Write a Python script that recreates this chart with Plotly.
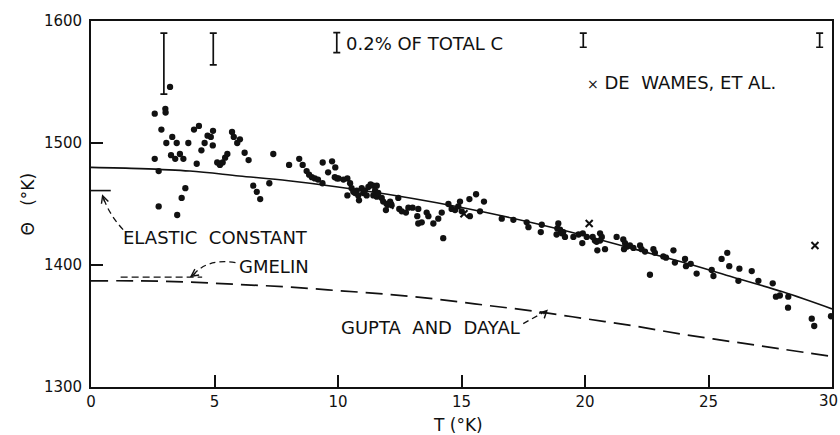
import plotly.graph_objects as go

# ---------------- data ----------------
T_obs = [3.20, 2.58, 3.01, 3.02, 2.85, 3.05, 3.29, 3.47, 2.58, 2.74, 3.24, 3.41, 3.60, 3.74, 3.94,
         4.17, 4.37, 4.28, 4.47, 4.60, 4.72, 4.85, 4.94, 4.93, 5.11, 5.22, 5.33, 5.43, 5.52, 5.71,
         5.78, 6.03, 5.92, 6.22, 6.38, 7.38, 6.57, 6.71, 6.85, 7.22, 3.82, 3.67, 2.74, 3.49, 8.02,
         8.43, 8.57, 8.73, 8.83, 8.94, 9.06, 9.19, 9.37, 9.38, 9.60, 9.76, 9.89, 9.96,
         9.87, 10.02, 10.22, 10.38, 10.49, 10.38, 10.55, 10.62, 10.76, 10.69, 10.82, 10.85, 10.96,
         11.02, 11.09, 11.16, 11.23, 11.32, 11.43, 11.57, 11.50, 11.43, 11.57, 11.63, 11.77, 11.83,
         11.97, 12.11, 12.17, 11.94, 12.44, 12.48, 12.58, 12.75, 12.85, 13.02, 13.25, 13.21, 13.39,
         13.25, 13.59, 13.66, 13.86, 14.06, 14.20, 14.26, 14.47, 14.60, 14.74, 14.87, 14.94, 15.01,
         15.32, 15.59, 15.91, 15.34, 15.75, 16.63, 17.10, 17.64, 17.71,
         18.25, 18.21, 18.92, 18.88, 18.99, 18.85, 19.06, 19.19, 19.12, 19.53, 19.74, 19.91, 19.89,
         20.07, 20.31, 20.40, 20.61, 20.68, 20.47, 20.50, 20.81, 20.61, 21.28, 21.55, 21.62, 21.69,
         21.58, 21.82, 21.96, 22.23, 22.29, 22.43, 22.77, 22.83, 23.17, 23.28, 23.58, 23.64, 22.63,
         24.05, 24.09, 24.28, 24.52, 25.13, 25.20, 25.53, 25.76, 25.84, 26.25, 26.21, 26.75, 27.02,
         27.60, 27.73, 27.89, 28.23, 28.22, 29.18, 29.28, 29.96]
theta_obs = [1546, 1524, 1528, 1525, 1511, 1500, 1505, 1500, 1487, 1477, 1490, 1487, 1491, 1487, 1500,
             1511, 1514, 1483, 1494, 1500, 1506, 1505, 1510, 1498, 1484, 1482, 1484, 1488, 1491, 1509,
             1505, 1503, 1500, 1492, 1486, 1491, 1465, 1460, 1454, 1467, 1463, 1455, 1448, 1441, 1482,
             1487, 1482, 1477, 1474, 1472, 1471, 1470, 1467, 1484, 1476, 1485, 1480, 1471,
             1472, 1471, 1470, 1471, 1467, 1457, 1463, 1460, 1461, 1459, 1457, 1453, 1463,
             1459, 1461, 1457, 1464, 1466, 1465, 1465, 1461, 1457, 1456, 1459, 1455, 1452,
             1450, 1452, 1449, 1445, 1455, 1446, 1444, 1443, 1447, 1447, 1446, 1440, 1435,
             1434, 1443, 1440, 1434, 1438, 1443, 1422, 1450, 1446, 1445, 1448, 1452, 1444,
             1454, 1458, 1452, 1440, 1444, 1438, 1437, 1435, 1431,
             1433, 1427, 1434, 1430, 1429, 1425, 1426, 1423, 1427, 1423, 1425, 1426, 1418,
             1423, 1423, 1420, 1426, 1423, 1419, 1412, 1413, 1420, 1423, 1421, 1418, 1415,
             1413, 1416, 1414, 1416, 1413, 1411, 1413, 1410, 1407, 1406, 1412, 1402, 1392,
             1405, 1399, 1401, 1393, 1396, 1391, 1405, 1410, 1399, 1397, 1387, 1395, 1387,
             1385, 1374, 1375, 1374, 1365, 1356, 1350, 1358]

T_dewames = [12.1, 15.1, 20.17, 29.31]
theta_dewames = [1449, 1442, 1434, 1416]

T_curve = [0, 2, 4, 6, 8, 10, 12, 14, 16, 18, 20, 22, 24, 26, 28, 30]
theta_fit = [1480, 1479, 1477, 1473, 1469, 1464, 1458, 1451, 1443, 1434, 1424, 1413, 1402, 1390, 1378, 1364]
theta_gupta = [1387, 1387, 1386, 1384, 1382, 1379, 1376, 1372, 1367, 1362, 1356, 1350, 1343, 1337, 1331, 1325]

T_gmelin = [1.2, 4.5]
theta_gmelin = [1390, 1390]

T_elastic = [0, 0.8]
theta_elastic = [1461, 1461]

err_T = [2.95, 4.95, 9.95, 19.93, 29.5]
err_lo = [1540, 1564, 1574, 1578.5, 1578.5]
err_hi = [1590, 1590, 1590.5, 1590, 1590]

x_ticks = [0, 5, 10, 15, 20, 25, 30]
x_tick_labels = ["0", "5", "10", "15", "20", "25", ""]
x_last_label = "30"
y_ticks = [1300, 1400, 1500, 1600]

FONT = "DejaVu Sans"
BLACK = "#111111"

fig = go.Figure()

fig.add_trace(go.Scatter(x=T_curve, y=theta_fit, mode="lines",
                         line=dict(color=BLACK, width=1.6), line_shape="spline", hoverinfo="skip"))
fig.add_trace(go.Scatter(x=T_curve, y=theta_gupta, mode="lines",
                         line=dict(color=BLACK, width=1.7, dash="17px,8px"), line_shape="spline",
                         hoverinfo="skip"))
fig.add_trace(go.Scatter(x=T_gmelin, y=theta_gmelin, mode="lines",
                         line=dict(color=BLACK, width=1.3, dash="7px,4px")))
fig.add_trace(go.Scatter(x=T_elastic, y=theta_elastic, mode="lines",
                         line=dict(color=BLACK, width=1.6)))
fig.add_trace(go.Scatter(x=T_obs, y=theta_obs, mode="markers",
                         marker=dict(color=BLACK, size=6.3, line=dict(width=0))))
fig.add_trace(go.Scatter(x=T_dewames, y=theta_dewames, mode="markers",
                         marker=dict(symbol="x-thin", size=7, line=dict(color=BLACK, width=2))))

err_mid = [(a + b) / 2 for a, b in zip(err_lo, err_hi)]
err_half = [(b - a) / 2 for a, b in zip(err_lo, err_hi)]
fig.add_trace(go.Scatter(x=err_T, y=err_mid, mode="markers", marker=dict(size=0.1, opacity=0),
                         error_y=dict(type="data", array=err_half, visible=True,
                                      color=BLACK, thickness=1.7, width=3.5)))

# dashed leader curves
leader = dict(color=BLACK, width=1.3, dash="6px,4px")
fig.add_shape(type="path", path="M 1.3,1429 Q 0.75,1441 0.5,1455", xref="x", yref="y", line=leader)
fig.add_shape(type="path", path="M 5.85,1402 Q 4.7,1405.5 4.15,1392", xref="x", yref="y", line=leader)
fig.add_shape(type="path", path="M 17.5,1352 L 18.35,1361.5", xref="x", yref="y", line=leader)

arrow = dict(showarrow=True, text="", arrowhead=5, arrowsize=1.1, arrowwidth=1.3, arrowcolor=BLACK,
             xref="x", yref="y")
fig.add_annotation(x=0.45, y=1458, ax=3, ay=9, **arrow)
fig.add_annotation(x=4.0, y=1390, ax=7, ay=-5, **arrow)
fig.add_annotation(x=18.5, y=1363.5, ax=-6, ay=6, **arrow)

lab = dict(showarrow=False, xref="x", yref="y", xanchor="left", yanchor="middle",
           font=dict(family=FONT, size=18, color=BLACK))
fig.add_annotation(x=1.2, y=1422.3, text="ELASTIC\u00a0 CONSTANT", **lab)
fig.add_annotation(x=5.9, y=1398.5, text="GMELIN", **lab)
fig.add_annotation(x=10.05, y=1348.6, text="GUPTA\u00a0 AND\u00a0 DAYAL", **lab)
fig.add_annotation(x=10.25, y=1581.7, text="0.2% OF TOTAL C", **lab)
fig.add_annotation(x=20.0, y=1550, text="<span style='font-size:14px'>×</span> DE\u00a0 WAMES, ET AL.", **lab)

# last x tick label kept just inside the page edge
fig.add_annotation(x=1, y=0, xref="paper", yref="paper", text=x_last_label, showarrow=False,
                   xanchor="right", yanchor="middle", xshift=8, yshift=-14,
                   font=dict(family=FONT, size=15, color=BLACK))

# axis titles
fig.add_annotation(x=-0.085, y=0.499, xref="paper", yref="paper", text="Θ\u00a0\u00a0 (°K)", textangle=-90,
                   xanchor="center", yanchor="middle",
                   showarrow=False, font=dict(family=FONT, size=17, color=BLACK))
fig.add_annotation(x=0.495, y=-0.104, xref="paper", yref="paper", text="T (°K)",
                   xanchor="center", yanchor="middle",
                   showarrow=False, font=dict(family=FONT, size=17, color=BLACK))

axis_common = dict(showline=True, linecolor=BLACK, linewidth=1.8, mirror=True,
                   ticks="inside", ticklen=12, tickwidth=1.5, tickcolor=BLACK,
                   showgrid=False, zeroline=False, automargin=False,
                   tickfont=dict(family=FONT, size=15, color=BLACK))
fig.update_xaxes(range=[0, 30], tickvals=x_ticks, ticktext=x_tick_labels,
                 ticklabelstandoff=0, **axis_common)
fig.update_yaxes(range=[1300, 1600], tickvals=y_ticks, ticktext=[str(v) for v in y_ticks],
                 ticklabelstandoff=4, **axis_common)

fig.update_layout(width=840, height=435, showlegend=False,
                  margin=dict(l=91, r=8, t=21, b=48, autoexpand=False),
                  paper_bgcolor="white", plot_bgcolor="white",
                  font=dict(family=FONT, color=BLACK))

fig.write_html("out.html", config={"displayModeBar": False},
               post_script="document.body.style.margin='0px';document.body.style.overflow='hidden';")
